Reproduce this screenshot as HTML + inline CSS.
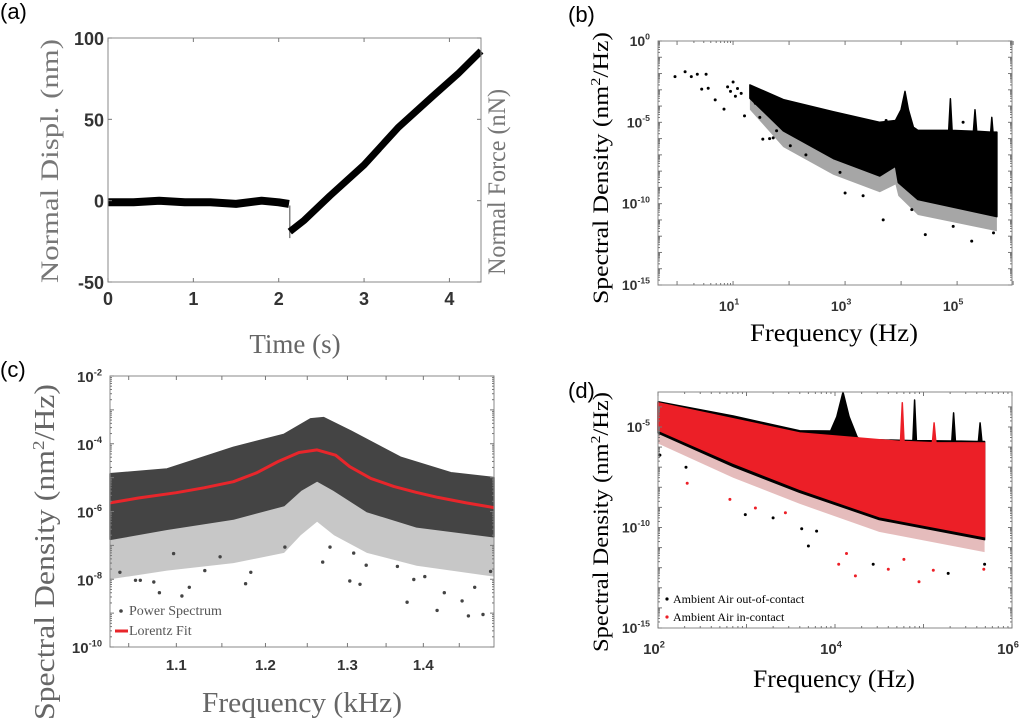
<!DOCTYPE html>
<html><head><meta charset="utf-8"><style>
html,body{margin:0;padding:0;background:#fff}
svg{display:block}
text{font-family:"Liberation Sans",sans-serif}
.ser{font-family:"Liberation Serif",serif}
.tk{font-weight:bold;fill:#333}
</style></head><body>
<svg id="fig" width="1024" height="721" viewBox="0 0 1024 721" xmlns="http://www.w3.org/2000/svg">
<text x="0" y="19" font-size="22">(a)</text>
<text x="568" y="22" font-size="22">(b)</text>
<text x="0" y="377" font-size="22">(c)</text>
<text x="568" y="398" font-size="22">(d)</text>
<text class="ser" transform="translate(58,161) rotate(-90)" text-anchor="middle" font-size="25" fill="#777" textLength="244" lengthAdjust="spacingAndGlyphs">Normal Displ. (nm)</text>
<text class="ser" transform="translate(505,182) rotate(-90)" text-anchor="middle" font-size="25" fill="#777" textLength="186" lengthAdjust="spacingAndGlyphs">Normal Force (nN)</text>
<text class="ser" x="295" y="353" text-anchor="middle" font-size="27" fill="#666">Time (s)</text>
<text class="ser" transform="translate(608,168) rotate(-90)" text-anchor="middle" font-size="22" fill="#000" textLength="272" lengthAdjust="spacingAndGlyphs">Spectral Density (nm<tspan dy="-8" font-size="14">2</tspan><tspan dy="8">/Hz)</tspan></text>
<text class="ser" x="834" y="341" text-anchor="middle" font-size="25" fill="#000" textLength="168" lengthAdjust="spacingAndGlyphs">Frequency (Hz)</text>
<text class="ser" transform="translate(54,552) rotate(-90)" text-anchor="middle" font-size="28" fill="#666" textLength="336" lengthAdjust="spacingAndGlyphs">Spectral Density (nm<tspan dy="-10" font-size="17">2</tspan><tspan dy="10">/Hz)</tspan></text>
<text class="ser" x="302" y="712" text-anchor="middle" font-size="28" fill="#666" textLength="200" lengthAdjust="spacingAndGlyphs">Frequency (kHz)</text>
<text class="ser" transform="translate(608,522) rotate(-90)" text-anchor="middle" font-size="22" fill="#000" textLength="260" lengthAdjust="spacingAndGlyphs">Spectral Density (nm<tspan dy="-8" font-size="14">2</tspan><tspan dy="8">/Hz)</tspan></text>
<text class="ser" x="834" y="687" text-anchor="middle" font-size="25" fill="#000" textLength="162" lengthAdjust="spacingAndGlyphs">Frequency (Hz)</text>
</svg>
<script>
// ---- Panel (a) data ----
const aTime=[0,0.3,0.6,0.9,1.2,1.5,1.8,2.0,2.12,2.13,2.3,2.6,3.0,3.4,3.8,4.1,4.37];
const aDispl=[-1,-1,0,-1,-1,-2,0,-1,-2,-19,-12,3,22,45,64,78,92];
const aXTicks=[0,1,2,3,4];
const aYTicks=[-50,0,50,100];
// ---- Panel (b) data ----
const bUpF=[20,79,617,4170,7940,10000,11750,13490,16600,19950,70800,75860,81280,195000,209000,224000,398000,417000,437000,513000];
const bUpS=[2e-3,2.5e-4,4.5e-5,1e-5,1.3e-5,6e-5,8e-4,6e-5,5e-6,3.2e-6,3.2e-6,2.8e-4,3.2e-6,2.8e-6,5.9e-5,2.8e-6,2.5e-6,2e-5,2.5e-6,2.5e-6];
const bLoF=[20,79,617,4170,7940,8900,19950,513000];
const bLoS=[3e-4,3e-6,6e-8,5e-9,2e-8,2e-9,1.8e-10,1.6e-11];
const bSpS=[6e-5,3e-7,6e-9,5e-10,1.5e-9,3e-10,2e-11,2e-12];
const bPtF=[0.92,1.39,1.8,2.3,3.3,2.75,3.6,4.8,6.9,16,34,52,105,200,810,1000,2100,4800,27000,182000,15500,85000,128000,5400,447000,8,10,12,14,9,11,25,40,60,30,45];
const bPtS=[6.5e-3,1.3e-2,6.5e-3,9e-3,9e-3,1.1e-3,1.25e-3,2.4e-4,6.5e-5,2.5e-5,9.3e-7,1.1e-6,3.6e-7,1e-7,8.3e-9,4.5e-10,3.1e-10,1e-11,1.26e-12,5e-13,4.3e-11,4e-12,1e-5,1.3e-5,1.6e-12,1.5e-3,3e-3,1.2e-3,6e-4,8e-4,4e-4,1.5e-4,6e-5,3e-6,2e-5,1e-6];
const bXTicks=[1,2,3,4,5,6,7,8,9,10,100,1000,10000,100000,1000000];
const bXLabels=[[10,"1"],[1000,"3"],[100000,"5"]];
const bYLabels=[[1,"0"],[1e-5,"-5"],[1e-10,"-10"],[1e-15,"-15"]];
// ---- Panel (c) data ----
const cFitF=[1.031,1.06,1.1,1.13,1.163,1.19,1.215,1.24,1.262,1.285,1.303,1.33,1.36,1.39,1.42,1.46,1.5];
const cFitS=[1.8e-6,2.5e-6,3.6e-6,5e-6,7.6e-6,1.4e-5,3e-5,5.5e-5,6.6e-5,4.6e-5,2.1e-5,9.5e-6,5.5e-6,3.7e-6,2.6e-6,1.8e-6,1.3e-6];
const cUpF=[1.031,1.09,1.163,1.222,1.254,1.27,1.304,1.369,1.438,1.5];
const cUpS=[1.3e-5,1.8e-5,7.8e-5,1.9e-4,5.4e-4,5.9e-4,2.4e-4,4e-5,1.4e-5,1e-5];
const cLoF=[1.031,1.09,1.163,1.222,1.242,1.262,1.283,1.325,1.391,1.5];
const cLoS=[1.5e-7,3e-7,6e-7,1.5e-6,4.2e-6,8e-6,4.2e-6,1e-6,3.5e-7,1.8e-7];
const cSpS=[1e-8,1.8e-8,3e-8,6e-8,2e-7,5e-7,2e-7,6e-8,2.5e-8,1.2e-8];
const cPtF=[1.041,1.057,1.062,1.076,1.082,1.106,1.114,1.131,1.177,1.183,1.269,1.303,1.316,1.324,1.365,1.378,1.387,1.402,1.419,1.429,1.454,1.463,1.472,1.484,1.495,1.308,1.278,1.223,1.148,1.097];
const cPtS=[1.6e-8,9.3e-9,9.3e-9,8.3e-9,4e-9,3.2e-9,5.8e-9,1.8e-8,7.4e-9,1.6e-8,3.2e-8,8.9e-9,7.1e-9,2.6e-8,2.4e-8,2.1e-9,9.8e-9,1.2e-8,1.2e-9,4e-9,2.3e-9,8.3e-10,5.8e-9,9.1e-10,1.7e-8,5.9e-8,8.9e-8,8.9e-8,4.6e-8,5.7e-8];
const cXTicks=[1.05,1.1,1.15,1.2,1.25,1.3,1.35,1.4,1.45];
const cXLabels=[1.1,1.2,1.3,1.4];
const cYLabels=[[1e-2,"-2"],[1e-4,"-4"],[1e-6,"-6"],[1e-8,"-8"],[1e-10,"-10"]];
// ---- Panel (d) data ----
const dBkUpF=[100,708,3981,8913,10470,12300,14450,17780,19050,75860,79430,83180,208900,218800,229100,416900,436500,457100,489800];
const dBkUpS=[1.8e-4,3.5e-5,6.5e-6,6.3e-6,3.2e-5,5.4e-4,3.2e-5,3.2e-6,2.4e-6,2.1e-6,2.2e-4,2.1e-6,2e-6,5e-5,2e-6,1.9e-6,1.6e-5,1.9e-6,1.9e-6];
const dBkLoF=[100,708,3981,31620,489800];
const dBkLoS=[5e-6,1.1e-7,5.6e-9,2.5e-10,2.5e-11];
const dRdUpF=[100,3981,54950,57540,60260,125900,131800,138000,489800];
const dRdUpS=[1.6e-4,5e-6,1.9e-6,1.6e-4,1.9e-6,1.66e-6,1.6e-5,1.66e-6,1.6e-6];
const dRdLoF=[100,708,3981,31620,489800];
const dRdLoS=[7e-6,1.6e-7,8e-9,3.5e-10,3.5e-11];
const dSpS=[1.5e-6,3e-8,1.5e-9,6e-11,6e-12];
const dBkPtF=[105,207,970,2000,5000,27000,190000,490000,4200,6200];
const dBkPtS=[4e-7,1e-7,4.4e-10,3e-10,1.2e-11,1.5e-12,5.2e-13,1.5e-12,8.7e-11,6.6e-11];
const dRdPtF=[214,650,1260,2750,11000,13500,17000,40000,60000,89000,129000,480000];
const dRdPtS=[1.6e-8,2.5e-9,9.3e-10,5.4e-10,1.5e-12,5.1e-12,3.9e-13,8.3e-13,2.6e-12,2e-13,7.4e-13,8.3e-13];
const dXLabels=[[100,"2"],[10000,"4"],[1000000,"6"]];
const dYLabels=[[1e-5,"-5"],[1e-10,"-10"],[1e-15,"-15"]];

const NS="http://www.w3.org/2000/svg";
const svg=document.getElementById('fig');
function mk(tag,parent){const e=document.createElementNS(NS,tag);parent.appendChild(e);return e;}
function linS(d0,d1,r0,r1){return v=>r0+(v-d0)/(d1-d0)*(r1-r0);}
function logS(d0,d1,r0,r1){const a=Math.log10(d0),b=Math.log10(d1);return v=>r0+(Math.log10(v)-a)/(b-a)*(r1-r0);}
function frame(g,x0,y0,x1,y1,name){const r=mk('rect',g);


r.setAttribute('x',x0);r.setAttribute('y',y0);r.setAttribute('width',x1-x0);r.setAttribute('height',y1-y0);r.setAttribute('fill','none');r.setAttribute('stroke','#888');r.setAttribute('stroke-width','1');}
function tick(g,x1,y1,x2,y2){const l=mk('line',g);


l.setAttribute('x1',x1);l.setAttribute('y1',y1);l.setAttribute('x2',x2);l.setAttribute('y2',y2);l.setAttribute('stroke','#777');l.setAttribute('stroke-width','1');}
function label(g,x,y,txt,anchor,size,sup){const t=mk('text',g);


t.setAttribute('class','tk');t.setAttribute('x',x);t.setAttribute('y',y);t.setAttribute('text-anchor',anchor);t.setAttribute('font-size',size);
t.appendChild(document.createTextNode(txt));
if(sup!==undefined){const s=mk('tspan',t);s.setAttribute('dy',-size*0.45);s.setAttribute('font-size',size*0.62);s.textContent=sup;}
return t;}
function band(g,sx,sy,uf,us,lf,ls,fill,name,op){const p=mk('polygon',g);


let pts=[];for(let i=0;i<uf.length;i++)pts.push(sx(uf[i]).toFixed(1)+','+sy(us[i]).toFixed(1));
for(let i=lf.length-1;i>=0;i--)pts.push(sx(lf[i]).toFixed(1)+','+sy(ls[i]).toFixed(1));
p.setAttribute('points',pts.join(' '));p.setAttribute('fill',fill);
if(op){p.setAttribute('fill-opacity',op);}else{p.setAttribute('stroke',fill);p.setAttribute('stroke-width','1.5');p.setAttribute('stroke-linejoin','round');}}
function dots(g,sx,sy,F,S,fill,r,name){for(let i=0;i<F.length;i++){const c=mk('circle',g);


c.setAttribute('cx',sx(F[i]).toFixed(1));c.setAttribute('cy',sy(S[i]).toFixed(1));c.setAttribute('r',r);c.setAttribute('fill',fill);}}
function line(g,sx,sy,X,Y,stroke,w,name){const p=mk('polyline',g);


p.setAttribute('points',X.map((x,i)=>sx(x).toFixed(1)+','+sy(Y[i]).toFixed(1)).join(' '));
p.setAttribute('fill','none');p.setAttribute('stroke',stroke);p.setAttribute('stroke-width',w);p.setAttribute('stroke-linejoin','round');}
function logYTicks(g,sy,x0,x1,e0,e1){for(let e=e0;e<=e1;e++){const y=sy(Math.pow(10,e));tick(g,x0,y,x0+4,y);tick(g,x1,y,x1-4,y);
for(let k=2;k<10;k++){const yy=sy(k*Math.pow(10,e));if(e<e1){tick(g,x0,yy,x0+2,yy);tick(g,x1,yy,x1-2,yy);}}}}

// ===== Panel (a) =====
{const g=mk('g',svg);


const X0=108,X1=481,Y0=38,Y1=282;const sx=linS(0,4.37,X0,X1),sy=linS(-50,100,Y1,Y0);
line(g,sx,sy,aTime.slice(0,9),aDispl.slice(0,9),'#000',8,'displacement-flat-segment');
line(g,sx,sy,[2.13,2.13],[-3,-23],'#666',1.2,'displacement-step');
line(g,sx,sy,aTime.slice(9),aDispl.slice(9),'#000',7,'displacement-ramp-segment');
frame(g,X0,Y0,X1,Y1,'a-plot-frame');
aXTicks.forEach(v=>{const x=sx(v);tick(g,x,Y1,x,Y1-4);tick(g,x,Y0,x,Y0+4);label(g,x,Y1+23,String(v),'middle',18);});
aYTicks.forEach(v=>{const y=sy(v);tick(g,X0,y,X0+4,y);tick(g,X1,y,X1-4,y);label(g,X0-4,y+7,String(v),'end',18);});}

// ===== Panel (b) =====
{const g=mk('g',svg);


const X0=658,X1=1012,Y0=41,Y1=285;const sx=logS(0.457,955000,X0,X1),sy=logS(1e-15,1,Y1,Y0);
band(g,sx,sy,bLoF,bLoS,bLoF,bSpS,'#000','b-spectrum-sparse-band',0.35);
band(g,sx,sy,bUpF,bUpS,bLoF,bLoS,'#000','b-spectrum-band');
dots(g,sx,sy,bPtF,bPtS,'#000',1.5,'b-spectrum-point');
frame(g,X0,Y0,X1,Y1,'b-plot-frame');
bXTicks.forEach(v=>{const x=sx(v);const L=(Math.log10(v)%1===0)?4:2;tick(g,x,Y1,x,Y1-L);tick(g,x,Y0,x,Y0+L);});
bXLabels.forEach(d=>label(g,sx(d[0])-4,Y1+26,'10','middle',14,d[1]));
logYTicks(g,sy,X0,X1,-15,0);
bYLabels.forEach(d=>label(g,X0-22,sy(d[0])+5,'10','end',14,d[1]).setAttribute('dx','14'));}

// ===== Panel (c) =====
{const g=mk('g',svg);


const X0=110,X1=494,Y0=376,Y1=647;const sx=logS(1.031,1.5,X0,X1),sy=logS(1e-10,1e-2,Y1,Y0);
band(g,sx,sy,cLoF,cLoS,cLoF,cSpS,'#444','c-power-spectrum-sparse-band',0.3);
band(g,sx,sy,cUpF,cUpS,cLoF,cLoS,'#444','c-power-spectrum-band');
dots(g,sx,sy,cPtF,cPtS,'#444',1.7,'c-power-spectrum-point');
line(g,sx,sy,cFitF,cFitS,'#e8262b',3,'c-lorentz-fit-line');
frame(g,X0,Y0,X1,Y1,'c-plot-frame');
cXTicks.forEach(v=>{const x=sx(v);tick(g,x,Y1,x,Y1-4);tick(g,x,Y0,x,Y0+4);});
cXLabels.forEach(v=>label(g,sx(v),Y1+23,v.toFixed(1),'middle',15));
logYTicks(g,sy,X0,X1,-10,-2);
cYLabels.forEach(d=>label(g,X0-22,sy(d[0])+6,'10','end',15,d[1]).setAttribute('dx','14'));
const lg=mk('g',g);


const ld=mk('circle',lg);


ld.setAttribute('cx',121);ld.setAttribute('cy',611);ld.setAttribute('r',1.8);ld.setAttribute('fill','#444');
const lt=mk('text',lg);


lt.setAttribute('class','ser');lt.setAttribute('x',129);lt.setAttribute('y',615);lt.setAttribute('font-size',14);lt.setAttribute('fill','#555');lt.textContent='Power Spectrum';
const ll=mk('line',lg);


ll.setAttribute('x1',115);ll.setAttribute('x2',128);ll.setAttribute('y1',631);ll.setAttribute('y2',631);ll.setAttribute('stroke','#e8262b');ll.setAttribute('stroke-width',3);
const lt2=mk('text',lg);


lt2.setAttribute('class','ser');lt2.setAttribute('x',129);lt2.setAttribute('y',635);lt2.setAttribute('font-size',14);lt2.setAttribute('fill','#555');lt2.textContent='Lorentz Fit';}

// ===== Panel (d) =====
{const g=mk('g',svg);


const X0=658,X1=1012,Y0=392,Y1=628;const sx=logS(100,1e6,X0,X1),sy=logS(1e-15,Math.pow(10,-3.26),Y1,Y0);
band(g,sx,sy,dRdLoF,dRdLoS,dRdLoF,dSpS,'#a22','d-sparse-band',0.3);
band(g,sx,sy,dBkUpF,dBkUpS,dBkLoF,dBkLoS,'#000','d-out-of-contact-band');
dots(g,sx,sy,dBkPtF,dBkPtS,'#000',1.5,'d-out-of-contact-point');
band(g,sx,sy,dRdUpF,dRdUpS,dRdLoF,dRdLoS,'#ec1f27','d-in-contact-band');
dots(g,sx,sy,dRdPtF,dRdPtS,'#ec1f27',1.5,'d-in-contact-point');
frame(g,X0,Y0,X1,Y1,'d-plot-frame');
for(let e=2;e<=6;e++){const x=sx(Math.pow(10,e));tick(g,x,Y1,x,Y1-4);tick(g,x,Y0,x,Y0+4);
if(e<6)for(let k=2;k<10;k++){const xx=sx(k*Math.pow(10,e));tick(g,xx,Y1,xx,Y1-2);tick(g,xx,Y0,xx,Y0+2);}}
dXLabels.forEach(d=>label(g,sx(d[0])-4,Y1+26,'10','middle',15,d[1]));
logYTicks(g,sy,X0,X1,-15,-4);
dYLabels.forEach(d=>label(g,X0-22,sy(d[0])+5,'10','end',14,d[1]).setAttribute('dx','14'));
const lg=mk('g',g);


const m1=mk('circle',lg);


m1.setAttribute('cx',667);m1.setAttribute('cy',599);m1.setAttribute('r',1.6);m1.setAttribute('fill','#000');
const t1=mk('text',lg);


t1.setAttribute('class','ser');t1.setAttribute('x',673);t1.setAttribute('y',603);t1.setAttribute('font-size',12);t1.textContent='Ambient Air out-of-contact';
const m2=mk('circle',lg);


m2.setAttribute('cx',667);m2.setAttribute('cy',617);m2.setAttribute('r',1.6);m2.setAttribute('fill','#ec1f27');
const t2=mk('text',lg);


t2.setAttribute('class','ser');t2.setAttribute('x',673);t2.setAttribute('y',621);t2.setAttribute('font-size',12);t2.textContent='Ambient Air in-contact';}
</script>
</body></html>
